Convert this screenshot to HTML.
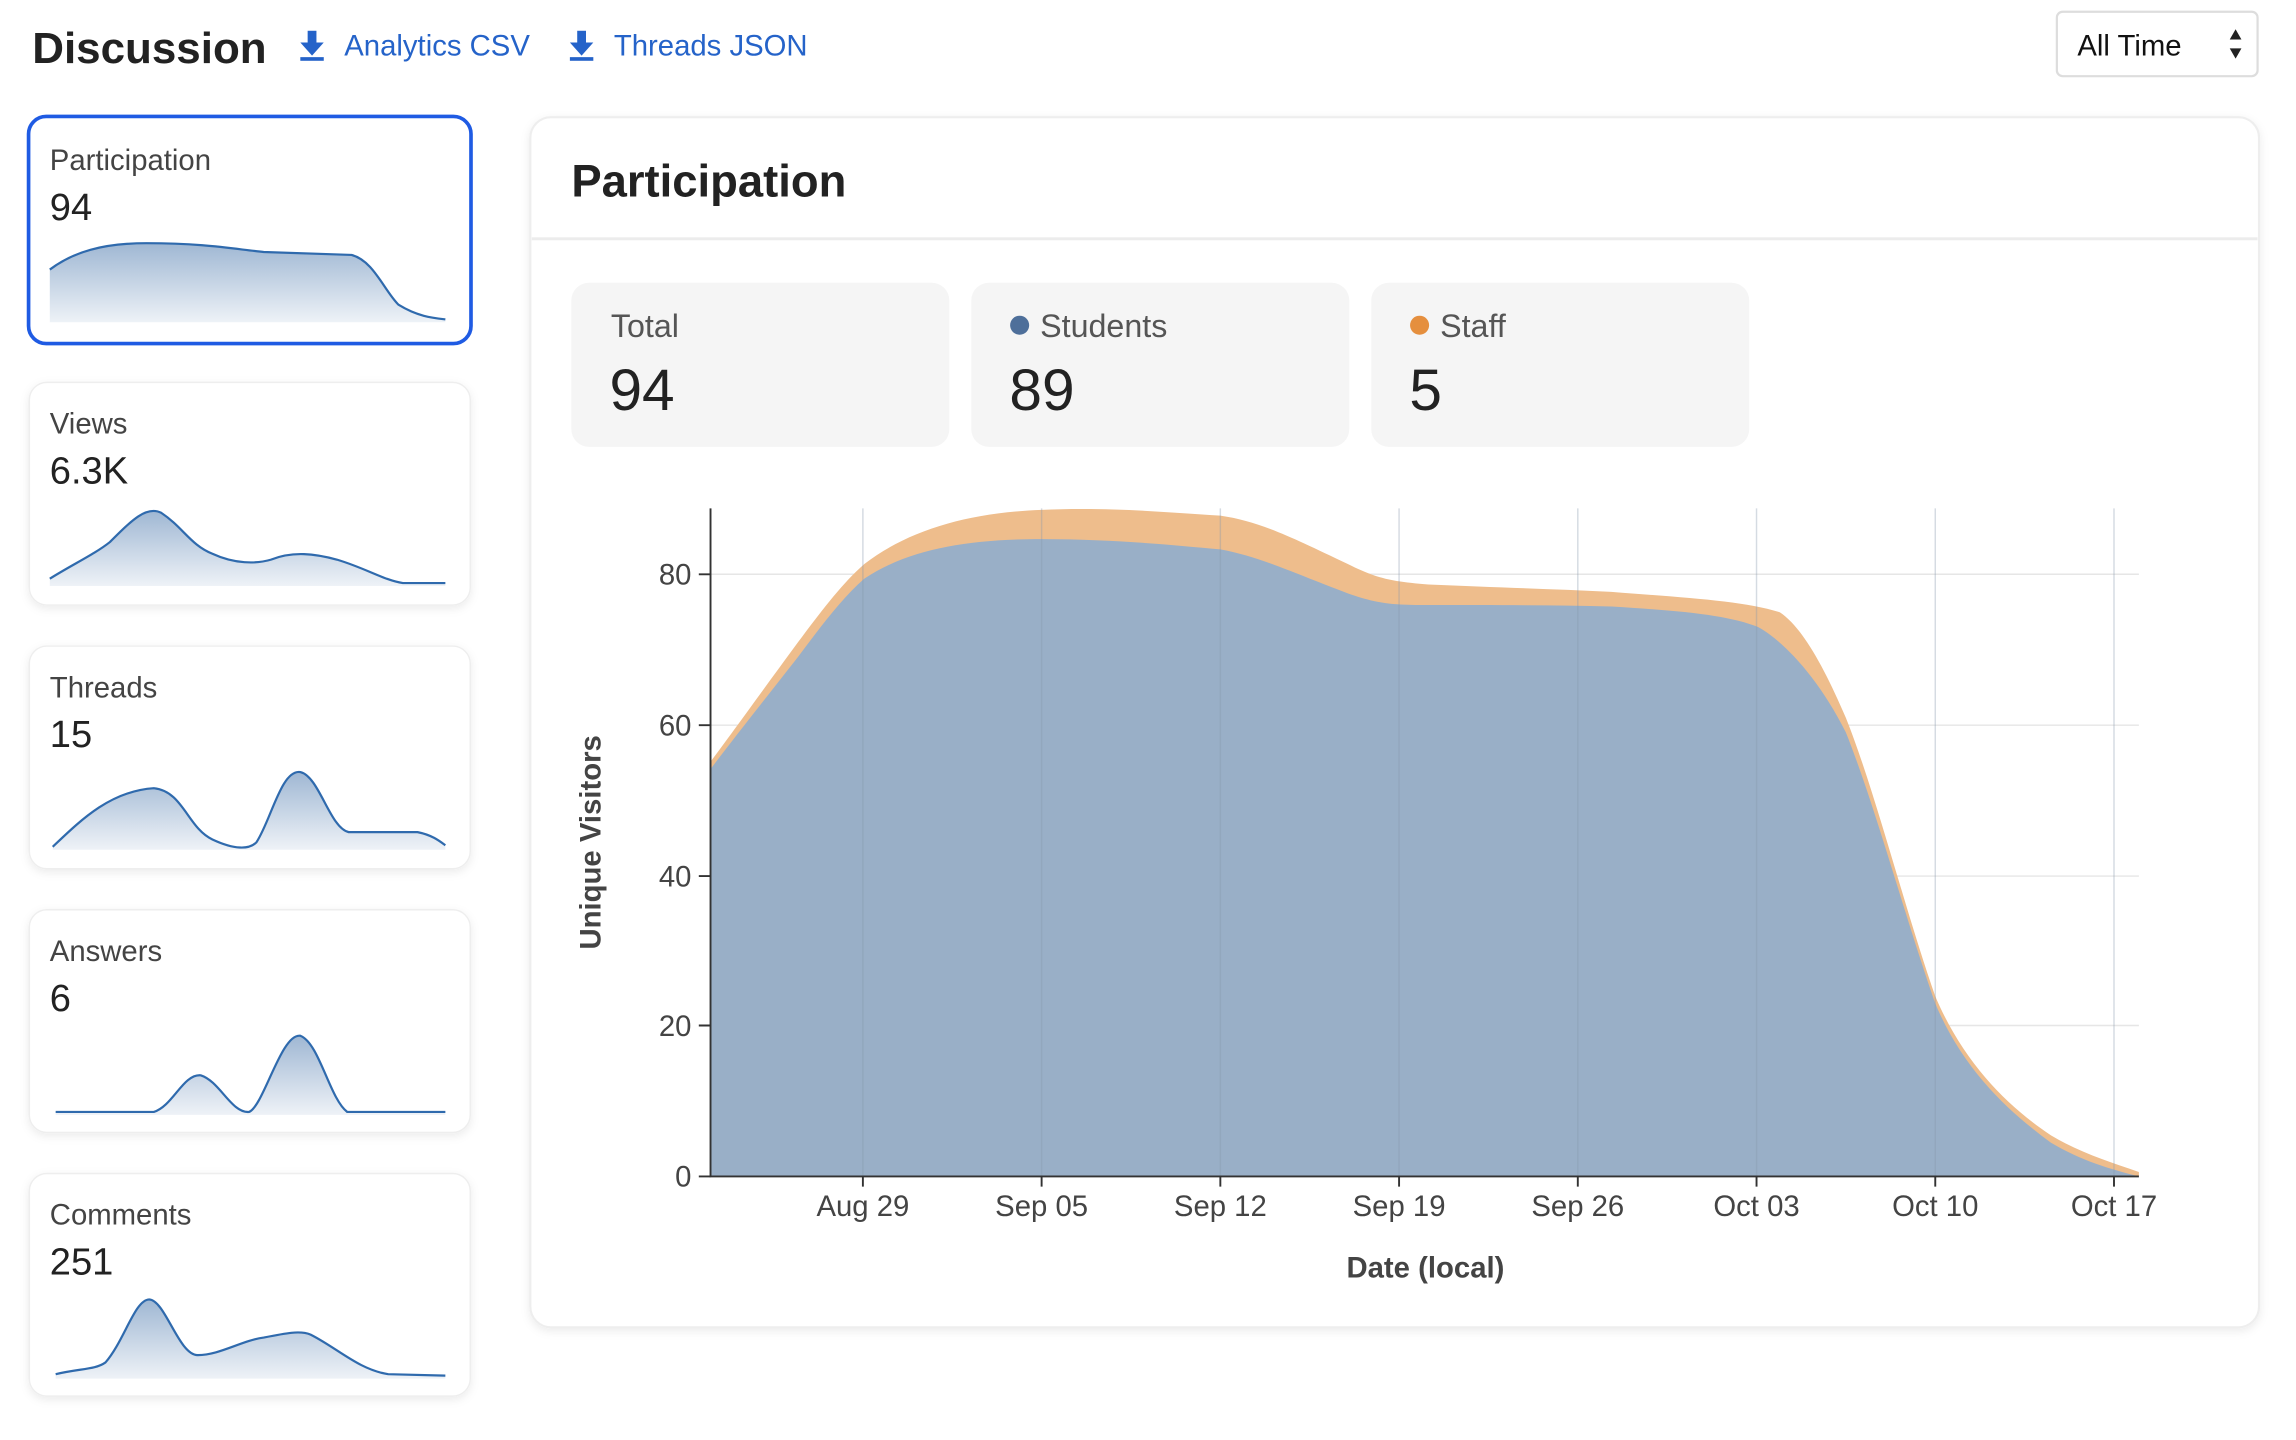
<!DOCTYPE html>
<html><head><meta charset="utf-8"><style>
html,body{margin:0;padding:0;background:#fff;width:2296px;height:1440px;overflow:hidden}
#w{position:absolute;left:0;top:0;width:1560px;height:978px;transform:scale(1.465);transform-origin:0 0}
svg text{font-family:"Liberation Sans",sans-serif}
</style></head><body><div id="w">
<svg width="1560" height="978" viewBox="0 0 1560 978" xmlns="http://www.w3.org/2000/svg">
<defs>
<linearGradient id="g" x1="0" y1="0" x2="0" y2="1"><stop offset="0" stop-color="#9fb7d3"/><stop offset="1" stop-color="#eef2f7"/></linearGradient>
<filter id="sh" x="-10%" y="-10%" width="120%" height="120%"><feDropShadow dx="0" dy="2" stdDeviation="3" flood-color="#000" flood-opacity="0.08"/></filter>
</defs>
<text x="22" y="43" font-size="30" font-weight="bold" fill="#222">Discussion</text>
<g fill="#2563c9">
<rect x="210" y="21" width="6" height="10"/><path d="M205 29h16l-8 9z"/><rect x="205" y="39" width="16" height="2.5"/>
<rect x="394" y="21" width="6" height="10"/><path d="M389 29h16l-8 9z"/><rect x="389" y="39" width="16" height="2.5"/>
</g>
<text x="235" y="38" font-size="20" fill="#2563c9">Analytics CSV</text>
<text x="419" y="38" font-size="20" fill="#2563c9">Threads JSON</text>
<rect x="1404" y="8" width="137" height="44" rx="4" fill="#fff" stroke="#ddd" stroke-width="1.5"/>
<text x="1418" y="38" font-size="20" fill="#111">All Time</text>
<path d="M1522 27l4-7 4 7z M1522 33l4 7 4-7z" fill="#222"/>

<g filter="url(#sh)" fill="#fff">
<rect x="20" y="261" width="301" height="152" rx="12" stroke="#eee"/>
<rect x="20" y="441" width="301" height="152" rx="12" stroke="#eee"/>
<rect x="20" y="621" width="301" height="152" rx="12" stroke="#eee"/>
<rect x="20" y="801" width="301" height="152" rx="12" stroke="#eee"/>
<rect x="362" y="80" width="1180" height="826" rx="14" stroke="#eee" stroke-width="1.5"/>
</g>
<rect x="19.5" y="79.5" width="302" height="155" rx="12" fill="#fff" stroke="#1f5be3" stroke-width="2.5"/>
<g font-size="20" fill="#444">
<text x="34" y="116">Participation</text><text x="34" y="296">Views</text><text x="34" y="476">Threads</text><text x="34" y="656">Answers</text><text x="34" y="836">Comments</text>
</g>
<g font-size="26" fill="#222">
<text x="34" y="150">94</text><text x="34" y="330">6.3K</text><text x="34" y="510">15</text><text x="34" y="690">6</text><text x="34" y="870">251</text>
</g>
<g fill="url(#g)" stroke="none">
<path d="M34 184 C50 172,70 166,100 166 C140 166,160 170,180 172 L240 174 C255 178,262 198,272 208 C285 216,295 217,304 218 L304 220 L34 220Z"/>
<path d="M34 395 C50 385,65 378,75 370 C90 355,100 345,110 350 C125 360,130 372,145 378 C160 385,175 385,185 382 C200 376,215 378,230 382 C250 388,262 396,275 398 L304 398 L304 400 L34 400Z"/>
<path d="M36 578 C55 560,75 540,105 538 C125 540,128 565,145 573 C160 580,170 580,175 575 C185 560,192 525,205 527 C218 530,225 565,238 568 L285 568 C295 570,300 574,304 577 L304 580 L36 580Z"/>
<path d="M38 759 L105 759 C118 755,125 733,137 734 C150 738,158 760,170 759 C180 755,192 705,205 707 C218 712,225 750,237 759 L304 759 L304 761 L38 761Z"/>
<path d="M38 938 C55 934,65 935,72 930 C85 915,92 887,102 887 C113 888,122 925,135 925 C150 925,165 915,180 913 C195 910,205 908,212 911 C230 920,245 935,265 938 L304 939 L304 941 L38 941Z"/>
</g>
<g fill="none" stroke="#2f6aad" stroke-width="1.5">
<path d="M34 184 C50 172,70 166,100 166 C140 166,160 170,180 172 L240 174 C255 178,262 198,272 208 C285 216,295 217,304 218"/>
<path d="M34 395 C50 385,65 378,75 370 C90 355,100 345,110 350 C125 360,130 372,145 378 C160 385,175 385,185 382 C200 376,215 378,230 382 C250 388,262 396,275 398 L304 398"/>
<path d="M36 578 C55 560,75 540,105 538 C125 540,128 565,145 573 C160 580,170 580,175 575 C185 560,192 525,205 527 C218 530,225 565,238 568 L285 568 C295 570,300 574,304 577"/>
<path d="M38 759 L105 759 C118 755,125 733,137 734 C150 738,158 760,170 759 C180 755,192 705,205 707 C218 712,225 750,237 759 L304 759"/>
<path d="M38 938 C55 934,65 935,72 930 C85 915,92 887,102 887 C113 888,122 925,135 925 C150 925,165 915,180 913 C195 910,205 908,212 911 C230 920,245 935,265 938 L304 939"/>
</g>

<text x="390" y="134" font-size="31" font-weight="bold" fill="#222">Participation</text>
<rect x="363" y="162" width="1178" height="2" fill="#ececec"/>
<g fill="#f5f5f5">
<rect x="390" y="193" width="258" height="112" rx="12"/><rect x="663" y="193" width="258" height="112" rx="12"/><rect x="936" y="193" width="258" height="112" rx="12"/>
</g>
<g font-size="22" fill="#555">
<text x="417" y="230">Total</text><text x="710" y="230">Students</text><text x="983" y="230">Staff</text>
</g>
<circle cx="696" cy="222" r="6.5" fill="#4e6f9a"/><circle cx="969" cy="222" r="6.5" fill="#e58f3e"/>
<g font-size="40" fill="#222"><text x="416" y="280">94</text><text x="689" y="280">89</text><text x="962" y="280">5</text></g>

<g stroke="#e6e6e6" stroke-width="1" fill="none">
<path d="M485 392H1460M485 495H1460M485 598H1460M485 700H1460"/>
</g>
<path d="M485 520 C500 500,520 472,545 438 C560 418,575 398,590 385 C620 362,660 350,711 348 C760 346,800 350,833 352 C860 356,880 366,920 385 C940 395,950 397,975 399 C1020 401,1060 402,1100 404 C1150 408,1190 410,1215 418 C1230 428,1245 455,1260 490 C1280 540,1300 620,1321 680 C1340 725,1370 755,1400 775 C1420 787,1440 793,1460 800 L1460 803 L485 803Z" fill="#eebd8c"/>
<path d="M485 525 C500 505,520 480,545 448 C560 428,575 408,590 395 C620 375,660 368,711 368 C760 368,800 372,833 375 C860 380,880 390,920 405 C940 412,950 413,975 413 C1020 413,1060 413,1100 414 C1150 417,1180 420,1200 428 C1215 436,1240 460,1260 500 C1280 550,1300 625,1321 685 C1340 730,1370 758,1400 780 C1420 792,1440 798,1460 803 L485 803Z" fill="#99afc7"/>
<g stroke="#8898ab" stroke-opacity="0.35" stroke-width="1" fill="none">
<path d="M589 347V803M711 347V803M833 347V803M955 347V803M1077 347V803M1199 347V803M1321 347V803M1443 347V803"/>
</g>
<g stroke="#333" stroke-width="1.3" fill="none"><path d="M485 347V803H1460"/>
<path d="M477 392H485M477 495H485M477 598H485M477 700H485M477 803H485"/>
<path d="M589 803v7M711 803v7M833 803v7M955 803v7M1077 803v7M1199 803v7M1321 803v7M1443 803v7"/></g>
<g font-size="20" fill="#444" text-anchor="end">
<text x="472" y="399">80</text><text x="472" y="502">60</text><text x="472" y="605">40</text><text x="472" y="707">20</text><text x="472" y="810">0</text>
</g>
<g font-size="20" fill="#444" text-anchor="middle">
<text x="589" y="830">Aug 29</text><text x="711" y="830">Sep 05</text><text x="833" y="830">Sep 12</text><text x="955" y="830">Sep 19</text><text x="1077" y="830">Sep 26</text><text x="1199" y="830">Oct 03</text><text x="1321" y="830">Oct 10</text><text x="1443" y="830">Oct 17</text>
</g>
<text x="973" y="872" font-size="20" font-weight="bold" fill="#444" text-anchor="middle">Date (local)</text>
<text transform="translate(410 575) rotate(-90)" font-size="20" font-weight="bold" fill="#444" text-anchor="middle">Unique Visitors</text>
</svg></div></body></html>
